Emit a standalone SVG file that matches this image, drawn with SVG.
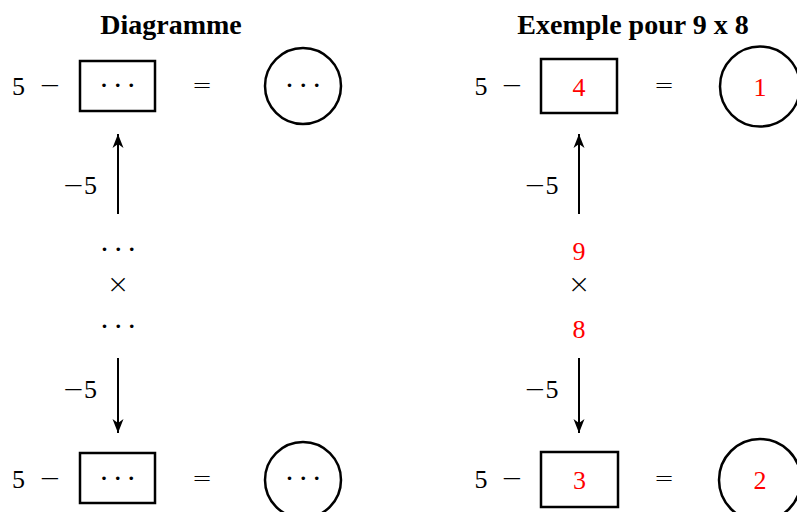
<svg xmlns="http://www.w3.org/2000/svg" width="797" height="512" viewBox="0 0 797 512">
<style>
  text { font-family: "Liberation Serif", "DejaVu Serif", serif; fill: #000; text-anchor: middle; }
  .m { font-size: 26px; }
  .mi { font-family: "DejaVu Sans", sans-serif; font-size: 26px; font-weight: 200; }
  .eq { font-family: "DejaVu Sans", sans-serif; font-size: 24px; font-weight: 200; }
  .x { font-family: "DejaVu Sans", sans-serif; font-size: 27px; font-weight: 200; }
  .d { font-family: "Liberation Serif", serif; font-size: 30px; letter-spacing: 3.7px; }
  .t { font-size: 28px; font-weight: bold; }
  .r { fill: #ff0000; }
  .box { fill: none; stroke: #000; stroke-width: 2.5; }
  .conn { stroke: #000; stroke-width: 2; fill: none; }
</style>
<defs>
  <marker id="ah" markerUnits="userSpaceOnUse" markerWidth="16" markerHeight="12" refX="14" refY="6" orient="auto" viewBox="0 0 16 12">
    <path d="M0,0.5 L14,6 L0,11.5 L4,6 Z" fill="#000"/>
  </marker>
</defs>
<rect width="797" height="512" fill="#fff"/>

<g id="titles">
  <text class="t" x="171" y="34">Diagramme</text>
  <text class="t" x="633" y="34">Exemple pour 9 x 8</text>
</g>

<g id="left-top">
  <text class="m" x="18.5" y="95">5</text>
  <text class="mi" x="50" y="94">−</text>
  <rect class="box" x="80" y="61" width="75" height="50"/>
  <text class="d" x="119.5" y="95">···</text>
  <text class="eq" x="202" y="93">=</text>
  <circle class="box" cx="303" cy="86" r="38"/>
  <text class="d" x="305" y="95">···</text>
</g>

<g id="left-mid">
  <text class="mi" x="73.5" y="194">−</text>
  <text class="m" x="90.5" y="194">5</text>
  <text class="d" x="120" y="259">···</text>
  <text class="x" x="118" y="293">×</text>
  <text class="d" x="120" y="336">···</text>
  <text class="mi" x="73.5" y="398">−</text>
  <text class="m" x="90.5" y="398">5</text>
</g>

<g id="left-bottom">
  <text class="m" x="18.5" y="488">5</text>
  <text class="mi" x="50" y="487">−</text>
  <rect class="box" x="80" y="453" width="75" height="50"/>
  <text class="d" x="119.5" y="488">···</text>
  <text class="eq" x="202" y="486">=</text>
  <circle class="box" cx="303" cy="480" r="38"/>
  <text class="d" x="305" y="488">···</text>
</g>

<g id="right-top">
  <text class="m" x="481" y="95">5</text>
  <text class="mi" x="512" y="94">−</text>
  <rect class="box" x="541" y="59" width="76" height="54"/>
  <text class="m r" x="579" y="96">4</text>
  <text class="eq" x="664" y="93">=</text>
  <circle class="box" cx="760" cy="86.5" r="40"/>
  <text class="m r" x="760" y="96">1</text>
</g>

<g id="right-mid">
  <text class="mi" x="535" y="194">−</text>
  <text class="m" x="552" y="194">5</text>
  <text class="m r" x="579" y="260">9</text>
  <text class="x" x="579" y="293">×</text>
  <text class="m r" x="579" y="338">8</text>
  <text class="mi" x="535" y="398">−</text>
  <text class="m" x="552" y="398">5</text>
</g>

<g id="right-bottom">
  <text class="m" x="481" y="488">5</text>
  <text class="mi" x="512" y="487">−</text>
  <rect class="box" x="541" y="452" width="77" height="55"/>
  <text class="m r" x="579.5" y="489">3</text>
  <text class="eq" x="664" y="486">=</text>
  <circle class="box" cx="760" cy="480" r="41"/>
  <text class="m r" x="760" y="489">2</text>
</g>

<g id="connectors">
  <line class="conn" x1="118" y1="214" x2="118" y2="134" marker-end="url(#ah)"/>
  <line class="conn" x1="118" y1="358" x2="118" y2="433" marker-end="url(#ah)"/>
  <line class="conn" x1="579" y1="214" x2="579" y2="134" marker-end="url(#ah)"/>
  <line class="conn" x1="579" y1="358" x2="579" y2="433" marker-end="url(#ah)"/>
</g>
</svg>
